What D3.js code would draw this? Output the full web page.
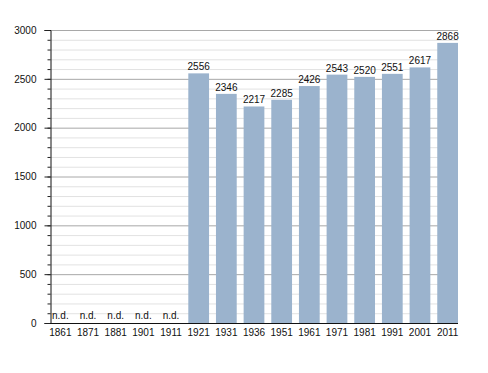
<!DOCTYPE html>
<html>
<head>
<meta charset="utf-8">
<script src="https://cdn.jsdelivr.net/npm/d3@7"></script>
<style>
  body { margin: 0; background: #fff; }
  text { font-family: "Liberation Sans", Arial, sans-serif; font-size: 10px; fill: #111; }
</style>
</head>
<body>
<div id="chart"></div>
<script>
// data
const years = ["1861", "1871", "1881", "1901", "1911", "1921", "1931", "1936", "1951", "1961", "1971", "1981", "1991", "2001", "2011"];
const population = [null, null, null, null, null, 2556, 2346, 2217, 2285, 2426, 2543, 2520, 2551, 2617, 2868];
const yTicks = [0, 500, 1000, 1500, 2000, 2500, 3000];

const width = 488, height = 373;

const svg = d3.select("#chart")
    .append("svg")
    .attr("width", width)
    .attr("height", height);

// scales
const x = d3.scaleBand()
    .domain(years)
    .range([50, 458])
    .paddingInner(0.25)
    .paddingOuter(0);

const y = d3.scaleLinear()
    .domain([0, 3000])
    .range([323, 30]);

// minor grid every 100
svg.append("g")
    .selectAll("line")
    .data(d3.range(100, 3001, 100).filter(v => v % 500 !== 0))
    .enter().append("line")
    .attr("x1", 50).attr("x2", 458)
    .attr("y1", d => y(d) + 0.5).attr("y2", d => y(d) + 0.5)
    .attr("stroke", "#e2e2e2");

// major grid every 500
svg.append("g")
    .selectAll("line")
    .data(yTicks.slice(1))
    .enter().append("line")
    .attr("x1", 50).attr("x2", 458)
    .attr("y1", d => y(d) + 0.5).attr("y2", d => y(d) + 0.5)
    .attr("stroke", "#a8a8a8");

// bars
svg.append("g")
    .selectAll("rect")
    .data(years.map((d, i) => ({ year: d, value: population[i] })).filter(d => d.value !== null))
    .enter().append("rect")
    .attr("x", d => x(d.year))
    .attr("y", d => y(d.value))
    .attr("width", x.bandwidth())
    .attr("height", d => y(0) - y(d.value))
    .attr("fill", "#9bb3cd");

// value labels
svg.append("g")
    .selectAll("text")
    .data(years.map((d, i) => ({ year: d, value: population[i] })))
    .enter().append("text")
    .attr("x", d => x(d.year) + x.bandwidth() / 2)
    .attr("y", d => d.value === null ? y(0) - 4 : y(d.value) - 3)
    .attr("text-anchor", "middle")
    .text(d => d.value === null ? "n.d." : d.value);

// y axis with minor ticks
const yAxis = svg.append("g")
    .attr("transform", "translate(50.5,0)")
    .call(d3.axisLeft(y).tickValues(d3.range(0, 3001, 100)).tickSize(3).tickFormat(""));
yAxis.select(".domain").remove();
yAxis.selectAll("line").attr("stroke", "#222");

svg.append("g")
    .attr("transform", "translate(50.5,0)")
    .call(d3.axisLeft(y).tickValues(yTicks).tickSize(6).tickPadding(8).tickFormat(d3.format("d")))
    .call(g => g.select(".domain").attr("stroke", "#111"))
    .call(g => g.selectAll("line").attr("stroke", "#222"))
    .call(g => g.selectAll("text").style("font-size", "10px").attr("fill", "#111"));

// x axis
svg.append("g")
    .attr("transform", "translate(0," + (y(0) + 0.5) + ")")
    .call(d3.axisBottom(x).tickSize(0).tickPadding(5))
    .call(g => g.select(".domain").attr("stroke", "#111").attr("d", "M50,0H458"))
    .call(g => g.selectAll("text").style("font-size", "10px").attr("fill", "#111"));
</script>
</body>
</html>
